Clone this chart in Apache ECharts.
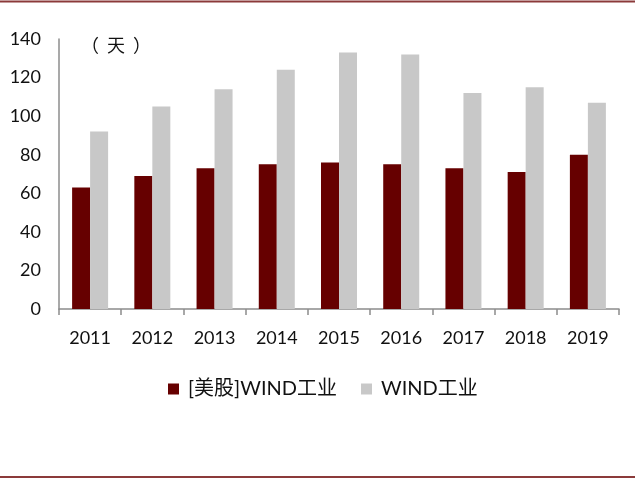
<!DOCTYPE html>
<html>
<head>
<meta charset="utf-8">
<script src="https://cdn.jsdelivr.net/npm/echarts@6/dist/echarts.min.js"></script>
<style>html,body{margin:0;padding:0;background:#fff;}#c{width:635px;height:479px;}</style>
</head>
<body>
<div id="c"></div>
<script>
var categories = ['2011','2012','2013','2014','2015','2016','2017','2018','2019'];
var usWindIndustry = [63, 69, 73, 75, 76, 75, 73, 71, 80];
var windIndustry = [92, 105, 114, 124, 133, 132, 112, 115, 107];
var seriesNames = ['[美股]WIND工业', 'WIND工业'];
var yTicks = [0, 20, 40, 60, 80, 100, 120, 140];

var chart = echarts.init(document.getElementById('c'), null, {renderer: 'canvas'});
var font = 'Lato, "Noto Sans CJK SC", sans-serif';
chart.setOption({
  animation: false,
  backgroundColor: '#fff',
  textStyle: {fontFamily: font},
  title: {
    text: '{p|（}{t|天}{p|）}',
    left: 76, top: 31,
    textStyle: {
      fontSize: 18, fontWeight: 'normal', color: '#111', fontFamily: '"Noto Sans CJK SC", sans-serif',
      rich: {
        p: {fontSize: 18, color: '#111', fontFamily: '"Noto Sans CJK SC", sans-serif'},
        t: {fontSize: 18, color: '#111', padding: [0, 8], fontFamily: '"Noto Sans CJK SC", sans-serif'}
      }
    }
  },
  legend: {
    data: seriesNames,
    bottom: 75,
    left: 163,
    itemWidth: 11, itemHeight: 11, itemGap: 24,
    icon: 'rect',
    textStyle: {fontSize: 20, color: '#111', fontFamily: font, padding: [0, 0, 0, 4]}
  },
  grid: {left: 59, right: 16, top: 39, bottom: 170, containLabel: false},
  xAxis: {
    type: 'category',
    data: categories,
    axisLine: {lineStyle: {color: '#8c8c8c', width: 1.5}},
    axisTick: {show: true, length: 6, lineStyle: {color: '#8c8c8c', width: 1.5}},
    axisLabel: {fontSize: 18, color: '#111', margin: 20, fontFamily: font}
  },
  yAxis: {
    type: 'value',
    min: yTicks[0], max: yTicks[yTicks.length - 1], interval: 20,
    axisLine: {show: true, lineStyle: {color: '#8c8c8c', width: 1.5}},
    axisTick: {show: false},
    splitLine: {show: false},
    axisLabel: {fontSize: 18, color: '#111', margin: 18, fontFamily: font}
  },
  series: [
    {name: seriesNames[0], type: 'bar', data: usWindIndustry, barWidth: 18, barGap: '0%',
     itemStyle: {color: '#660000'}},
    {name: seriesNames[1], type: 'bar', data: windIndustry, barWidth: 18, barGap: '0%',
     itemStyle: {color: '#c8c8c8'}}
  ],
  graphic: [
    {type: 'line', shape: {x1: 0, y1: 1.5, x2: 635, y2: 1.5}, style: {stroke: '#8b3a3a', lineWidth: 2}},
    {type: 'line', shape: {x1: 0, y1: 477, x2: 635, y2: 477}, style: {stroke: '#8b3a3a', lineWidth: 2}}
  ]
});
</script>
</body>
</html>
